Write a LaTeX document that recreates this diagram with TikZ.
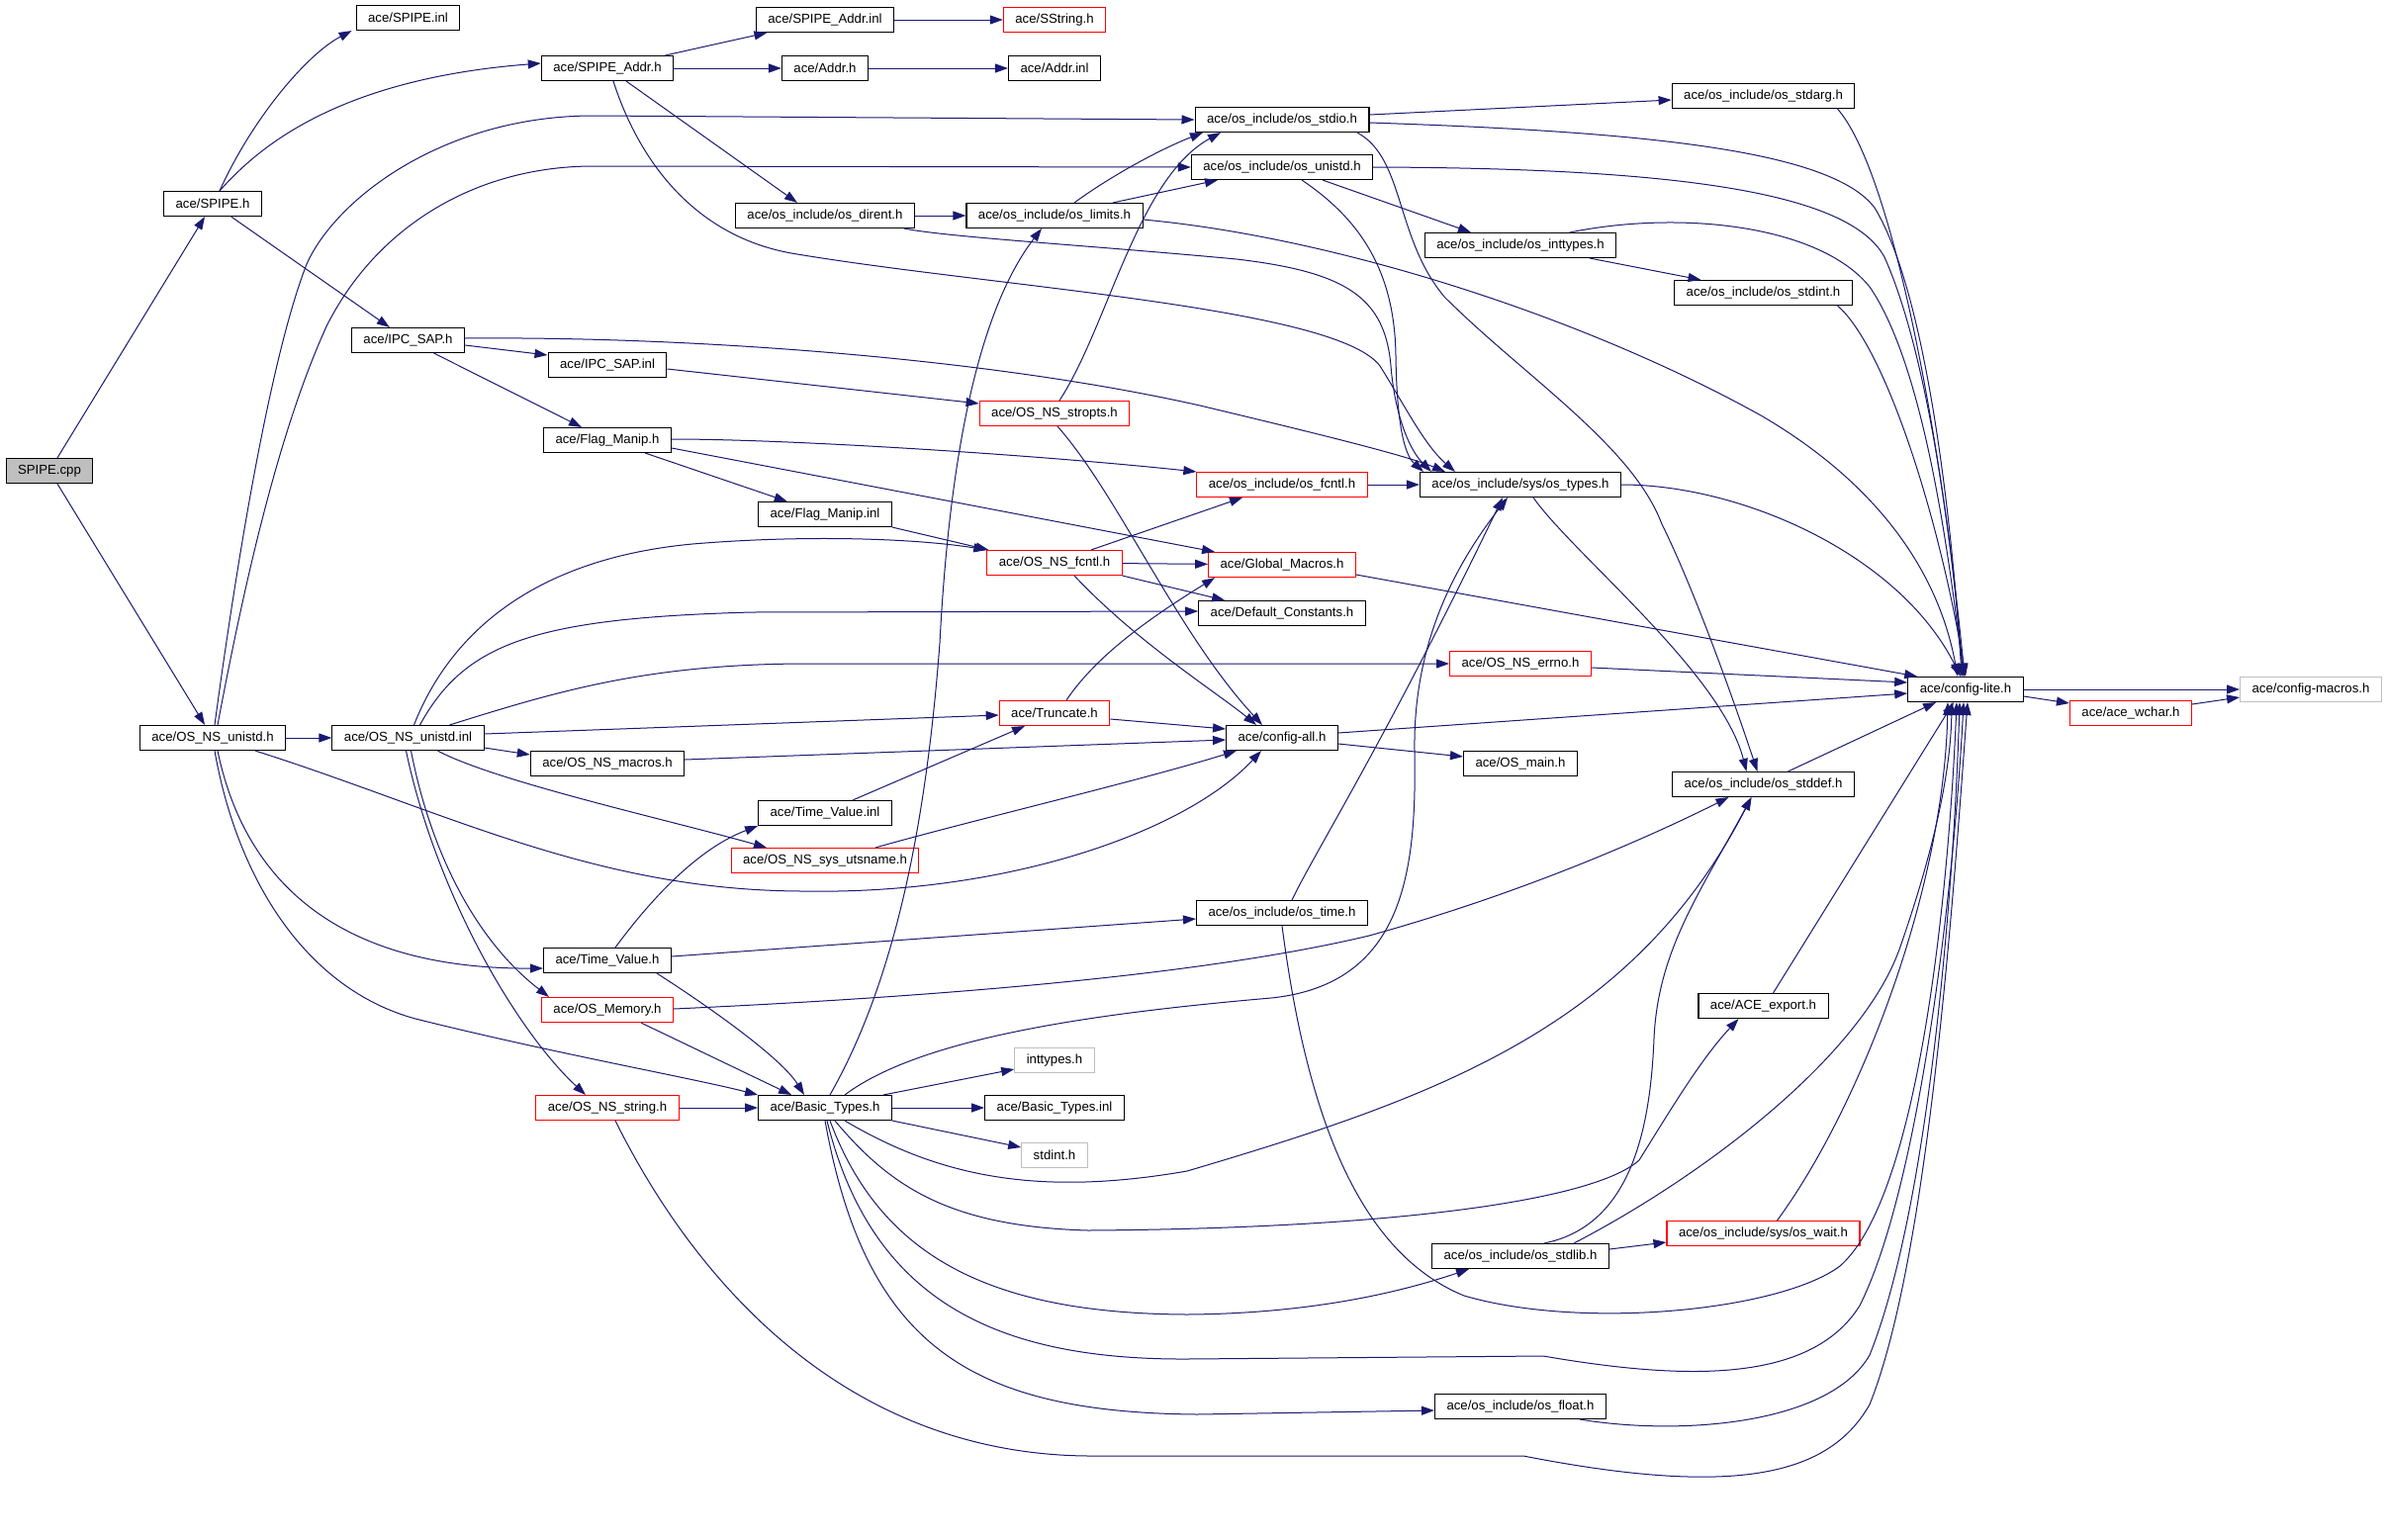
\documentclass[tikz,border=0pt]{standalone}
\usepackage{fontspec}
\setmainfont{Liberation Sans}
\usetikzlibrary{arrows.meta}
\definecolor{edgeblue}{HTML}{191970}
\definecolor{boxgray}{HTML}{BFBFBF}
\begin{document}
\begin{tikzpicture}[x=1pt,y=-1pt,
  file/.style={draw=black,line width=1.1pt,fill=white,minimum height=25pt,inner xsep=12pt,inner ysep=0pt,font=\fontsize{13.2}{15}\selectfont},
  trunc/.style={file,draw=red},
  sysfile/.style={file,draw=boxgray},
  inc/.style={draw=edgeblue,line width=1pt,-{Triangle[length=13pt,width=9pt]}}]
  \path[use as bounding box,fill=white] (0,0) rectangle (2413,1556);
  \node[file,fill=boxgray] (spipecpp) at (50,476) {SPIPE.cpp};
  \node[file] (spipeh) at (215,206) {ace/SPIPE.h};
  \node[file] (spipeinl) at (412.5,18) {ace/SPIPE.inl};
  \node[file] (spipeaddrh) at (614,69) {ace/SPIPE\_Addr.h};
  \node[file] (spipeaddrinl) at (834,20) {ace/SPIPE\_Addr.inl};
  \node[trunc] (sstringh) at (1066,20) {ace/SString.h};
  \node[file] (addrh) at (834,69) {ace/Addr.h};
  \node[file] (addrinl) at (1066,69) {ace/Addr.inl};
  \node[file] (osstdioh) at (1296,121) {ace/os\_include/os\_stdio.h};
  \node[file] (osunistdh) at (1296,169) {ace/os\_include/os\_unistd.h};
  \node[file] (osdirenth) at (834,218) {ace/os\_include/os\_dirent.h};
  \node[file] (oslimitsh) at (1066,218) {ace/os\_include/os\_limits.h};
  \node[file] (osstdargh) at (1782.5,97) {ace/os\_include/os\_stdarg.h};
  \node[file] (osinttypesh) at (1537,248) {ace/os\_include/os\_inttypes.h};
  \node[file] (osstdinth) at (1782.5,296) {ace/os\_include/os\_stdint.h};
  \node[file] (ipcsaph) at (412.5,344) {ace/IPC\_SAP.h};
  \node[file] (ipcsapinl) at (614,369) {ace/IPC\_SAP.inl};
  \node[trunc] (osnsstroptsh) at (1066,418) {ace/OS\_NS\_stropts.h};
  \node[file] (flagmaniph) at (614,445) {ace/Flag\_Manip.h};
  \node[trunc] (osfcntlh) at (1296,490) {ace/os\_include/os\_fcntl.h};
  \node[file] (ostypesh) at (1537,490) {ace/os\_include/sys/os\_types.h};
  \node[file] (flagmanipinl) at (834,520) {ace/Flag\_Manip.inl};
  \node[trunc] (osnsfcntlh) at (1066,569) {ace/OS\_NS\_fcntl.h};
  \node[trunc] (globalmacrosh) at (1296,571) {ace/Global\_Macros.h};
  \node[file] (defaultconstantsh) at (1296,620) {ace/Default\_Constants.h};
  \node[trunc] (osnserrnoh) at (1537,671) {ace/OS\_NS\_errno.h};
  \node[file] (configliteh) at (1987,697) {ace/config-lite.h};
  \node[sysfile] (configmacrosh) at (2336,697) {ace/config-macros.h};
  \node[trunc] (acewcharh) at (2154,721) {ace/ace\_wchar.h};
  \node[file] (osnsunistdh) at (215,746) {ace/OS\_NS\_unistd.h};
  \node[file] (osnsunistdinl) at (412.5,746) {ace/OS\_NS\_unistd.inl};
  \node[file] (osnsmacrosh) at (614,772) {ace/OS\_NS\_macros.h};
  \node[trunc] (truncateh) at (1066,721) {ace/Truncate.h};
  \node[file] (configallh) at (1296,746) {ace/config-all.h};
  \node[file] (osmainh) at (1537,772) {ace/OS\_main.h};
  \node[file] (osstddefh) at (1782.5,793) {ace/os\_include/os\_stddef.h};
  \node[file] (timevalueinl) at (834,822) {ace/Time\_Value.inl};
  \node[trunc] (osnssysutsnameh) at (834,870) {ace/OS\_NS\_sys\_utsname.h};
  \node[file] (ostimeh) at (1296,923) {ace/os\_include/os\_time.h};
  \node[file] (timevalueh) at (614,971) {ace/Time\_Value.h};
  \node[trunc] (osmemoryh) at (614,1021) {ace/OS\_Memory.h};
  \node[file] (aceexporth) at (1782.5,1017) {ace/ACE\_export.h};
  \node[sysfile] (inttypesh) at (1066,1072) {inttypes.h};
  \node[trunc] (osnsstringh) at (614,1120) {ace/OS\_NS\_string.h};
  \node[file] (basictypesh) at (834,1120) {ace/Basic\_Types.h};
  \node[file] (basictypesinl) at (1066,1120) {ace/Basic\_Types.inl};
  \node[sysfile] (stdinth) at (1066,1168) {stdint.h};
  \node[file] (osstdlibh) at (1537,1270) {ace/os\_include/os\_stdlib.h};
  \node[trunc] (oswaith) at (1782.5,1247) {ace/os\_include/sys/os\_wait.h};
  \node[file] (osfloath) at (1537,1422) {ace/os\_include/os\_float.h};

  \draw[inc] (spipecpp) -- (spipeh);
  \draw[inc] (spipecpp) -- (osnsunistdh);
  \draw[inc] ([xshift=7pt]spipeh.north) .. controls (255,120) and (310,55) .. ([xshift=-4pt]spipeinl.south west);
  \draw[inc] ([xshift=7pt]spipeh.north) .. controls (260,150) and (340,80) .. ([yshift=5pt]spipeaddrh.west);
  \draw[inc] (spipeh) -- (ipcsaph);
  \draw[inc] (spipeaddrh) -- (spipeaddrinl);
  \draw[inc] (spipeaddrh) -- (addrh);
  \draw[inc] ([xshift=19pt]spipeaddrh.south) -- ([xshift=-28pt]osdirenth.north);
  \draw[inc] ([xshift=6pt]spipeaddrh.south) .. controls (645,160) and (700,238) .. (800,256) .. controls (1000,290) and (1350,310) .. (1395,370) .. controls (1420,410) and (1440,450) .. ([xshift=-66pt]ostypesh.north);
  \draw[inc] (spipeaddrinl) -- (sstringh);
  \draw[inc] (addrh) -- (addrinl);

  \draw[inc] ([xshift=2pt]osnsunistdh.north) .. controls (235,600) and (270,370) .. (310,267) .. controls (340,200) and (450,117) .. (600,117) -- (osstdioh.west);
  \draw[inc] ([xshift=5pt]osnsunistdh.north) .. controls (245,600) and (280,440) .. (330,330) .. controls (380,230) and (480,168) .. (600,168) -- (osunistdh.west);
  \draw[inc] (osnsunistdh) -- (osnsunistdinl);
  \draw[inc] ([xshift=43pt]osnsunistdh.south) .. controls (450,820) and (600,900) .. (810,901) .. controls (1020,905) and (1200,840) .. ([xshift=-21pt]configallh.south);
  \draw[inc] ([xshift=5pt]osnsunistdh.south) .. controls (245,880) and (330,980) .. ([yshift=-8pt]timevalueh.west);
  \draw[inc] ([xshift=2pt]osnsunistdh.south) .. controls (240,890) and (310,1000) .. (420,1030) .. controls (560,1065) and (700,1090) .. (basictypesh.north west);

  \draw[inc] ([xshift=6pt]osnsunistdinl.north) .. controls (455,640) and (540,565) .. (700,550) .. controls (820,540) and (930,545) .. (osnsfcntlh.north west);
  \draw[inc] ([xshift=12pt]osnsunistdinl.north) .. controls (470,650) and (540,625) .. (760,619) -- ([yshift=2pt]defaultconstantsh.west);
  \draw[inc] ([xshift=42pt]osnsunistdinl.north) .. controls (560,700) and (650,672) .. (810,671) -- (osnserrnoh.west);
  \draw[inc] ([yshift=4pt]osnsunistdinl.east) -- ([yshift=-2pt]truncateh.west);
  \draw[inc] ([yshift=-10pt]osnsunistdinl.east) -- ([yshift=9pt]osnsmacrosh.west);
  \draw[inc] ([xshift=30pt]osnsunistdinl.south) .. controls (500,790) and (680,830) .. ([xshift=-59pt]osnssysutsnameh.north);
  \draw[inc] ([xshift=3pt]osnsunistdinl.south) .. controls (435,860) and (480,950) .. ([xshift=-59pt]osmemoryh.north);
  \draw[inc] ([xshift=-2pt]osnsunistdinl.south) .. controls (440,900) and (520,1040) .. ([xshift=-22pt]osnsstringh.north);
  \draw[inc] ([yshift=4pt]osnsmacrosh.east) -- ([yshift=-2pt]configallh.west);

  \draw[inc] ([yshift=-5pt]ipcsaph.east) -- ([yshift=10pt]ipcsapinl.west);
  \draw[inc] (ipcsaph) -- (flagmaniph);
  \draw[inc] ([yshift=2pt]ipcsaph.east) .. controls (700,340) and (1000,362) .. (1213,410) .. controls (1330,438) and (1420,460) .. ([xshift=-76pt]ostypesh.north);
  \draw[inc] ([yshift=-4pt]ipcsapinl.east) -- ([yshift=-3pt]osnsstroptsh.north west);
  \draw[inc] ([yshift=1pt]flagmaniph.east) .. controls (800,444) and (1050,460) .. (osfcntlh.north west);
  \draw[inc] ([yshift=-8pt]flagmaniph.east) -- ([xshift=7pt]globalmacrosh.north west);
  \draw[inc] (flagmaniph) -- (flagmanipinl);
  \draw[inc] (flagmanipinl.south east) -- ([xshift=2pt]osnsfcntlh.north west);

  \draw[inc] ([xshift=5pt]osnsstroptsh.north) .. controls (1120,330) and (1150,180) .. ([xshift=-62pt]osstdioh.south);
  \draw[inc] ([xshift=3pt]osnsstroptsh.south) .. controls (1130,500) and (1190,640) .. ([xshift=-20pt]configallh.north);
  \draw[inc] ([xshift=37pt]osnsfcntlh.north) -- ([xshift=-40pt]osfcntlh.south);
  \draw[inc] (osnsfcntlh) -- (globalmacrosh);
  \draw[inc] (osnsfcntlh.south east) -- ([xshift=27pt]defaultconstantsh.north west);
  \draw[inc] ([xshift=20pt]osnsfcntlh.south) .. controls (1150,650) and (1230,700) .. ([xshift=-26pt]configallh.north);
  \draw[inc] (osfcntlh) -- (ostypesh);
  \draw[inc] (ostypesh.east) .. controls (1760,490) and (1920,560) .. ([xshift=-5pt]configliteh.north);
  \draw[inc] ([xshift=13pt]ostypesh.south) .. controls (1590,560) and (1740,680) .. ([xshift=-17pt]osstddefh.north);

  \draw[inc] ([yshift=5pt]osstdioh.east) -- ([yshift=-4pt]osstdargh.west);
  \draw[inc] ([yshift=-3pt]osstdioh.east) .. controls (1650,133) and (1850,150) .. (1895,210) .. controls (1950,300) and (1975,550) .. ([xshift=-4pt]configliteh.north);
  \draw[inc] ([xshift=76pt]osstdioh.south) .. controls (1420,160) and (1410,240) .. (1460,300) .. controls (1540,380) and (1650,450) .. (1680,530) .. controls (1710,590) and (1750,700) .. ([xshift=-6pt]osstddefh.north);
  \draw[inc] (osunistdh.east) .. controls (1700,170) and (1870,195) .. (1905,260) .. controls (1950,360) and (1975,560) .. ([xshift=-3pt]configliteh.north);
  \draw[inc] ([xshift=41pt]osunistdh.south) -- ([xshift=-50pt]osinttypesh.north);
  \draw[inc] ([xshift=20pt]osunistdh.south) .. controls (1380,225) and (1410,280) .. (1411,360) .. controls (1412,430) and (1420,460) .. ([xshift=-98pt]ostypesh.north);
  \draw[inc] (osdirenth) -- (oslimitsh);
  \draw[inc] ([xshift=80pt]osdirenth.south) .. controls (960,240) and (1100,248) .. (1250,262) .. controls (1360,275) and (1400,300) .. (1406,370) .. controls (1410,420) and (1425,455) .. ([xshift=-90pt]ostypesh.north);
  \draw[inc] ([xshift=20pt]oslimitsh.north) .. controls (1120,180) and (1170,152) .. ([xshift=-80pt]osstdioh.south);
  \draw[inc] ([xshift=59pt]oslimitsh.north) -- ([xshift=-65pt]osunistdh.south);
  \draw[inc] ([yshift=-4pt]oslimitsh.east) .. controls (1350,240) and (1600,320) .. (1780,420) .. controls (1900,490) and (1960,580) .. ([xshift=-8pt]configliteh.north);
  \draw[inc] ([xshift=70pt]osinttypesh.south) -- ([xshift=-63pt]osstdinth.north);
  \draw[inc] ([xshift=50pt]osinttypesh.north) .. controls (1700,212) and (1840,228) .. (1890,290) .. controls (1945,370) and (1970,560) .. ([xshift=-2pt]configliteh.north);
  \draw[inc] ([xshift=75pt]osstdargh.south) .. controls (1910,170) and (1960,420) .. ([xshift=-1pt]configliteh.north);
  \draw[inc] ([xshift=75pt]osstdinth.south) .. controls (1905,350) and (1960,520) .. (configliteh.north);

  \draw[inc] ([yshift=-10pt]globalmacrosh.east) -- ([xshift=10pt]configliteh.north west);
  \draw[inc] ([yshift=-4pt]osnserrnoh.east) -- ([yshift=7pt]configliteh.west);
  \draw[inc] ([yshift=5pt]configallh.east) -- ([yshift=-4pt]configliteh.west);
  \draw[inc] ([yshift=-6pt]configallh.east) -- ([yshift=7pt]osmainh.west);
  \draw[inc] ([yshift=-6pt]truncateh.east) -- ([yshift=9pt]configallh.west);
  \draw[inc] ([xshift=12pt]truncateh.north) .. controls (1110,660) and (1170,620) .. ([xshift=7pt]globalmacrosh.south west);
  \draw[inc] ([xshift=28pt]timevalueinl.north) -- ([xshift=-30pt]truncateh.south);
  \draw[inc] ([xshift=51pt]osnssysutsnameh.north) .. controls (980,830) and (1150,790) .. ([xshift=-46pt]configallh.south);

  \draw[inc] ([xshift=8pt]timevalueh.north) .. controls (650,920) and (700,860) .. (timevalueinl.south west);
  \draw[inc] ([yshift=4pt]timevalueh.east) -- ([yshift=-6pt]ostimeh.west);
  \draw[inc] ([xshift=50pt]timevalueh.south) .. controls (720,1020) and (790,1070) .. ([xshift=-21pt]basictypesh.north);
  \draw[inc] ([yshift=1pt]osmemoryh.east) .. controls (900,1010) and (1200,990) .. (1384,946) .. controls (1550,900) and (1680,840) .. ([xshift=-35pt]osstddefh.south);
  \draw[inc] ([xshift=34pt]osmemoryh.south) -- ([xshift=-34pt]basictypesh.north);
  \draw[inc] (osnsstringh) -- (basictypesh);
  \draw[inc] ([xshift=8pt]osnsstringh.south) .. controls (700,1290) and (850,1470) .. (1100,1472) -- (1540,1472) .. controls (1760,1515) and (1850,1490) .. (1890,1420) .. controls (1950,1270) and (1975,900) .. ([xshift=2pt]configliteh.south);

  \draw[inc] ([xshift=5pt]basictypesh.north) .. controls (900,1000) and (935,850) .. (950,650) .. controls (962,420) and (1000,300) .. ([xshift=-13pt]oslimitsh.south);
  \draw[inc] ([xshift=59pt]basictypesh.north) -- ([yshift=-9pt]inttypesh.west);
  \draw[inc] (basictypesh) -- (basictypesinl);
  \draw[inc] (basictypesh.south east) -- ([yshift=8pt]stdinth.west);
  \draw[inc] ([xshift=20pt]basictypesh.north) .. controls (930,1050) and (1100,1025) .. (1285,1009) .. controls (1420,995) and (1432,880) .. (1430,760) .. controls (1428,640) and (1480,560) .. ([xshift=-13pt]ostypesh.south);
  \draw[inc] ([xshift=10pt]ostimeh.north) .. controls (1330,860) and (1400,750) .. ([xshift=-18pt]ostypesh.south);
  \draw[inc] ([xshift=20pt]basictypesh.south) .. controls (950,1190) and (1050,1210) .. (1200,1184) .. controls (1450,1110) and (1650,1040) .. ([xshift=-12pt]osstddefh.south);
  \draw[inc] ([xshift=10pt]basictypesh.south) .. controls (900,1200) and (960,1240) .. (1100,1244) .. controls (1400,1242) and (1610,1215) .. (1657,1173) .. controls (1690,1120) and (1720,1070) .. ([xshift=-25pt]aceexporth.south);
  \draw[inc] ([xshift=5pt]basictypesh.south) .. controls (890,1270) and (1000,1328) .. (1200,1329) .. controls (1330,1328) and (1420,1305) .. ([xshift=-52pt]osstdlibh.south);
  \draw[inc] ([xshift=2pt]basictypesh.south) .. controls (880,1310) and (1000,1375) .. (1200,1374) -- (1560,1371) .. controls (1700,1395) and (1830,1400) .. (1880,1320) .. controls (1940,1200) and (1975,900) .. ([xshift=-2pt]configliteh.south);
  \draw[inc] (basictypesh.south) .. controls (875,1360) and (980,1428) .. (1210,1430) -- ([yshift=-4pt]osfloath.west);
  \draw[inc] ([xshift=60pt]osfloath.south) .. controls (1700,1452) and (1850,1440) .. (1890,1370) .. controls (1950,1220) and (1975,900) .. ([xshift=-6pt]configliteh.south);
  \draw[inc] (ostimeh.south) .. controls (1320,1120) and (1370,1265) .. (1480,1310) .. controls (1600,1345) and (1800,1325) .. (1860,1280) .. controls (1940,1210) and (1970,900) .. ([xshift=-9pt]configliteh.south);

  \draw[inc] ([yshift=7pt]osstdlibh.east) -- ([yshift=-9pt]oswaith.west);
  \draw[inc] ([xshift=54pt]osstdlibh.north) .. controls (1720,1190) and (1880,1070) .. (1920,960) .. controls (1955,860) and (1972,780) .. ([xshift=-14pt]configliteh.south);
  \draw[inc] ([xshift=24pt]osstdlibh.north) .. controls (1645,1240) and (1668,1150) .. (1672,1050) .. controls (1676,960) and (1720,900) .. ([xshift=-12pt]osstddefh.south);
  \draw[inc] ([xshift=14pt]oswaith.north) .. controls (1880,1120) and (1965,900) .. ([xshift=-18pt]configliteh.south);
  \draw[inc] ([xshift=10pt]aceexporth.north) -- ([xshift=-12pt]configliteh.south);
  \draw[inc] ([xshift=25pt]osstddefh.north) -- ([xshift=-30pt]configliteh.south);
  \draw[inc] (configliteh) -- (configmacrosh);
  \draw[inc] ([yshift=-7pt]configliteh.east) -- ([yshift=10pt]acewcharh.west);
  \draw[inc] ([yshift=9pt]acewcharh.east) -- ([yshift=-8pt]configmacrosh.west);
\end{tikzpicture}
\end{document}
